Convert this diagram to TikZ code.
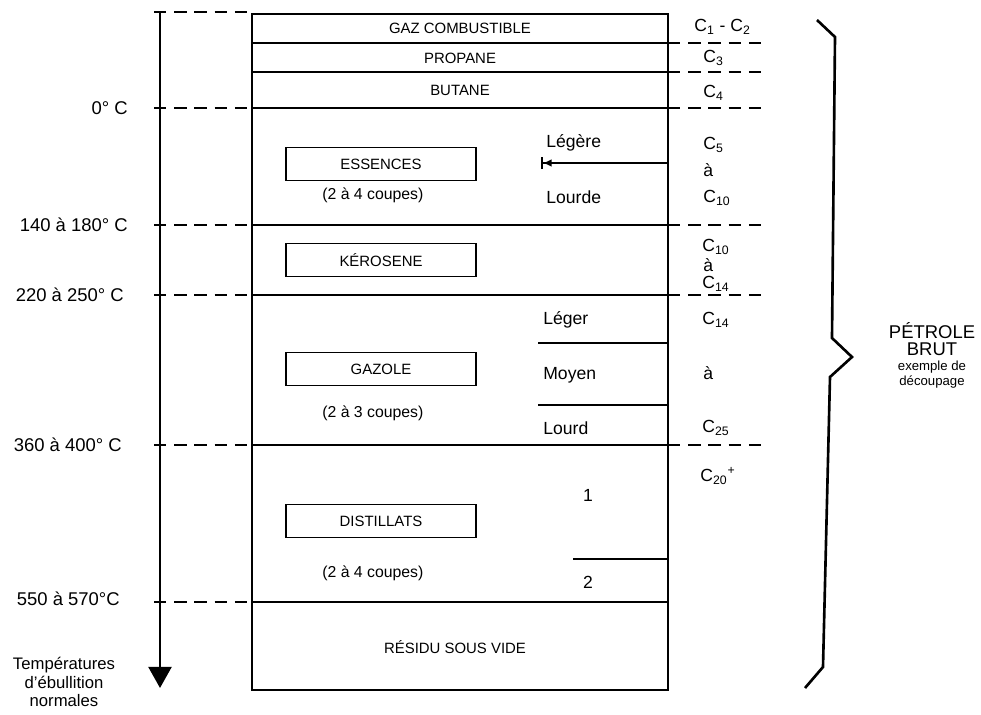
\documentclass[tikz,border=0pt]{standalone}
\usepackage{fontspec}
\setmainfont{Liberation Sans}
\usetikzlibrary{arrows.meta}

\tikzset{
  frame/.style={line width=1.4pt},
  cutline/.style={line width=1.1pt},
  level/.style={line width=1.3pt, dash pattern=on 7pt off 4.5pt},
  fracbox/.style={draw, line width=1pt, minimum width=3.8cm, minimum height=0.66cm,
    inner sep=0pt, font=\fontsize{8.5}{10}\selectfont},
  fraclbl/.style={inner sep=0pt, font=\fontsize{8.5}{10}\selectfont},
  coupes/.style={anchor=west, inner sep=0pt, font=\fontsize{9}{11}\selectfont},
  sublbl/.style={anchor=west, inner sep=0pt, font=\fontsize{10}{12}\selectfont},
  carbon/.style={anchor=west, inner sep=0pt, font=\fontsize{10}{12}\selectfont},
  templbl/.style={anchor=east, inner sep=0pt, font=\fontsize{10.5}{12}\selectfont},
}

\begin{document}
\begin{tikzpicture}[x=0.02cm,y=-0.02cm]
  \useasboundingbox (0,0) rectangle (981,714);
  \fill[white] (0,0) rectangle (981,714);

  % ==========================================================
  %                     PARAMETERS
  % ==========================================================
  \def\boxL{252}    % left edge of the column
  \def\boxR{668}    % right edge of the column
  \def\boxT{14}     % top of the column
  \def\boxB{690}    % bottom of the column
  \def\axisX{160}   % temperature axis
  \def\tickR{762}   % end of the dashed marks on the right
  \def\cutX{381}    % centre of the fraction boxes

  % ==========================================================
  %                     COLUMN
  % ==========================================================
  \draw[frame] (\boxL,\boxT) rectangle (\boxR,\boxB);
  \foreach \y in {43,72,108,225,295,445,602}
    \draw[cutline] (\boxL,\y) -- (\boxR,\y);

  % dashed level marks, left (temperatures) and right (carbon numbers)
  \foreach \y in {12,108,225,295,445,602}
    \draw[level] (\axisX-6,\y) -- (\boxL,\y);
  \foreach \y in {43,72,108,225,295,445}
    \draw[level] (\boxR,\y) -- (\tickR,\y);

  % ==========================================================
  %                     TEMPERATURE AXIS
  % ==========================================================
  \draw[line width=1.6pt, -{Triangle[width=13pt,length=12pt]}] (\axisX,12) -- (\axisX,688);

  \node[templbl] (t0)   at (128,108) {0° C};
  \node[templbl] (t140) at (128,225) {140 à 180° C};
  \node[templbl] (t220) at (124,295) {220 à 250° C};
  \node[templbl] (t360) at (122,445) {360 à 400° C};
  \node[templbl] (t550) at (120,599) {550 à 570°C};
  \node[align=center, inner sep=0pt, font=\fontsize{9.5}{10.5}\selectfont]
    (axislbl) at (64,682) {Températures\\d'ébullition\\normales};

  % ==========================================================
  %                     FRACTIONS
  % ==========================================================
  \node[fraclbl] (gaz)  at (460,28)  {GAZ COMBUSTIBLE};
  \node[fraclbl] (prop) at (460,58)  {PROPANE};
  \node[fraclbl] (but)  at (460,90)  {BUTANE};

  \node[fracbox] (ess)  at (\cutX,164) {ESSENCES};
  \node[coupes]  (essc) at (322,195) {(2 à 4 coupes)};
  \node[fracbox] (ker)  at (\cutX,260) {KÉROSENE};
  \node[fracbox] (gzl)  at (\cutX,369) {GAZOLE};
  \node[coupes]  (gzlc) at (322,413) {(2 à 3 coupes)};
  \node[fracbox] (dist) at (\cutX,521) {DISTILLATS};
  \node[coupes]  (dstc) at (322,573) {(2 à 4 coupes)};
  \node[fraclbl] (res)  at (455,647) {RÉSIDU SOUS VIDE};

  % sub-cuts
  \node[sublbl] (leg1) at (546,143) {Légère};
  \draw[cutline, {Bar[width=7pt]Latex[length=5pt,width=4.5pt]}-] (541,163) -- (\boxR,163);
  \node[sublbl] (lrd1) at (546,197) {Lourde};

  \node[sublbl] (leg2) at (543,320) {Léger};
  \draw[cutline] (538,343) -- (\boxR,343);
  \node[sublbl] (moy)  at (543,375) {Moyen};
  \draw[cutline] (538,405) -- (\boxR,405);
  \node[sublbl] (lrd2) at (543,428) {Lourd};

  \node[sublbl, anchor=center] (d1) at (588,495) {1};
  \draw[cutline] (573,559) -- (\boxR,559);
  \node[sublbl, anchor=center] (d2) at (588,582) {2};

  % ==========================================================
  %                     CARBON NUMBERS
  % ==========================================================
  \node[carbon] (c12)  at (694,27)  {C\textsubscript{1} - C\textsubscript{2}};
  \node[carbon] (c3)   at (703,58)  {C\textsubscript{3}};
  \node[carbon] (c4)   at (703,93)  {C\textsubscript{4}};
  \node[carbon] (c5)   at (703,145) {C\textsubscript{5}};
  \node[carbon] (a1)   at (703,170) {à};
  \node[carbon] (c10a) at (703,198) {C\textsubscript{10}};
  \node[carbon] (c10b) at (702,247) {C\textsubscript{10}};
  \node[carbon] (a2)   at (703,265) {à};
  \node[carbon] (c14a) at (702,284) {C\textsubscript{14}};
  \node[carbon] (c14b) at (702,320) {C\textsubscript{14}};
  \node[carbon] (a3)   at (703,373) {à};
  \node[carbon] (c25)  at (702,428) {C\textsubscript{25}};
  \node[carbon] (c20)  at (700,476) {C\textsubscript{20}\textsuperscript{+}};

  % ==========================================================
  %                     CRUDE BRACKET
  % ==========================================================
  \draw[line width=1.5pt, line join=miter] (817,20) -- (835,37) -- (832,338) -- (852,357)
    -- (830,377) -- (823,667) -- (805,688);
  \node[align=center, inner sep=0pt, font=\fontsize{10.5}{10}\selectfont]
    (brut) at (932,339) {PÉTROLE\\BRUT};
  \node[align=center, inner sep=0pt, font=\fontsize{7.5}{8.5}\selectfont]
    (decoup) at (932,375) {exemple de\\découpage};

\end{tikzpicture}
\end{document}
